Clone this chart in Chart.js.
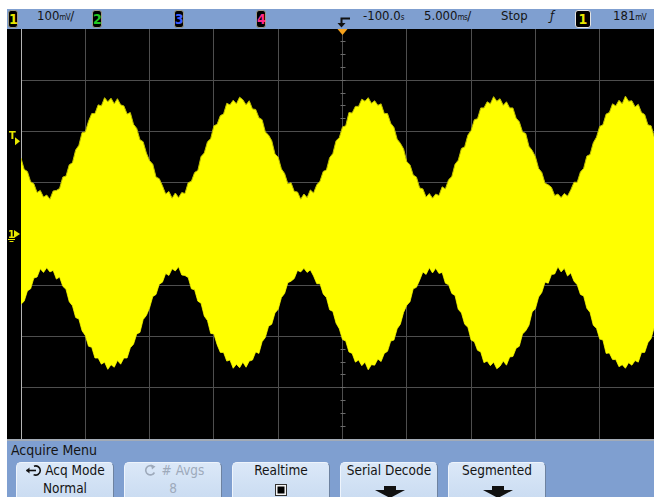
<!DOCTYPE html>
<html>
<head>
<meta charset="utf-8">
<script src="https://cdn.jsdelivr.net/npm/chart.js@4.4.0/dist/chart.umd.min.js"></script>
<style>
  html, body { margin: 0; padding: 0; }
  body {
    width: 654px; height: 497px; overflow: hidden; position: relative; background: #fff;
    font-family: "DejaVu Sans Condensed", "DejaVu Sans", "Liberation Sans Narrow", sans-serif;
    font-stretch: condensed; color: #141414;
  }
  .abs { position: absolute; }
  #topbar { left: 7px; top: 9px; width: 647px; height: 20px; background: #7f9fd0; }
  #menu { left: 7px; top: 439px; width: 647px; height: 58px; background: #7f9fd0; border-top: 2px solid #a3abb6; box-sizing: border-box; }
  #screen { left: 7px; top: 29px; width: 660px; height: 410px; background: #000; }
  .lbl { position: absolute; top: 8px; line-height: 16px; font-size: 13px; white-space: nowrap; }
  .unit { font-size: 8px; letter-spacing: -0.5px; }
  .chip {
    position: absolute; top: 10px; height: 18px; width: 10px; box-sizing: border-box;
    background: #000; border: 1px solid #9a9a8a; border-radius: 3px;
    font-size: 14px; font-weight: bold; line-height: 16px; text-align: center;
  }
  .btn {
    position: absolute; top: 462px; width: 98px; height: 40px; box-sizing: border-box;
    background: linear-gradient(#dbe8f8, #c9dbf1); border: 1px solid #6d82a0; border-left-color: #eef4fc; border-top-color: #eef4fc;
    border-radius: 5px 5px 0 0; text-align: center; font-size: 13.5px;
  }
  .btn .l1 { position: absolute; left: 0; right: 0; top: 0; line-height: 15px; }
  .btn .l2 { position: absolute; left: 0; right: 0; top: 17px; line-height: 16px; }
  .dim { color: #9eaabb; }
</style>
</head>
<body>
<div id="topbar" class="abs"></div>
<div class="chip" style="left:8px;color:#e8e800">1</div>
<div class="lbl" style="left:37px">100<span class="unit">mV</span>/</div>
<div class="chip" style="left:92px;color:#22c822">2</div>
<div class="chip" style="left:174px;color:#3a5cff">3</div>
<div class="chip" style="left:256px;color:#ff2a8a">4</div>
<svg class="abs" style="left:0;top:0" width="654" height="30">
  <path d="M350 18.5 H341.5 V24" stroke="#111" stroke-width="2" fill="none"/>
  <path d="M337.5 23 H345.5 L341.5 27.5 Z" fill="#111"/>
</svg>
<div class="lbl" style="left:363px">-100.0<span class="unit">s</span></div>
<div class="lbl" style="left:424px">5.000<span class="unit">ms</span>/</div>
<div class="lbl" style="left:501px">Stop</div>
<div class="lbl" style="left:550px;font-style:italic">ƒ</div>
<div class="chip" style="left:575px;width:16px;border:1.5px solid #e4e4e4;color:#e8e800">1</div>
<div class="lbl" style="left:613px">181<span class="unit">mV</span></div>

<div id="screen" class="abs"><canvas id="scope"></canvas></div>

<div id="menu" class="abs"></div>
<div class="abs" style="left:11px;top:441px;font-size:14px;line-height:18px">Acquire Menu</div>

<div class="btn" style="left:16px">
  <div class="l1"><svg width="19" height="12" style="vertical-align:-1px;margin-right:1px"><path d="M9 2.2 A4.6 4.6 0 1 1 8.6 10.6" stroke="#111" stroke-width="1.6" fill="none"/><path d="M1.5 6.5 H11" stroke="#111" stroke-width="1.6"/><path d="M1 6.5 L4.5 3.5 V9.5 Z" fill="#111"/></svg>Acq Mode</div>
  <div class="l2">Normal</div>
</div>
<div class="btn dim" style="left:124px">
  <div class="l1"><svg width="16" height="12" style="vertical-align:-1px;margin-right:4px"><path d="M11 2.5 A4.6 4.6 0 1 0 12.4 8.5" stroke="#9eaabb" stroke-width="1.6" fill="none"/><path d="M9 0.5 L13.5 2.6 L10 5.5 Z" fill="#9eaabb"/></svg># Avgs</div>
  <div class="l2">8</div>
</div>
<div class="btn" style="left:232px">
  <div class="l1">Realtime</div>
  <div class="l2"><span style="display:inline-block;width:12px;height:12px;box-sizing:border-box;border:1px solid #333;background:#000;box-shadow:inset 0 0 0 1.5px #f4f4f4;margin-top:4px"></span></div>
</div>
<div class="btn" style="left:340px">
  <div class="l1">Serial Decode</div>
  <svg class="abs" style="left:33px;top:22px" width="32" height="14"><path d="M10 1 H22 V5 H31 L16 13 L1 5 H10 Z" fill="#111"/></svg>
</div>
<div class="btn" style="left:448px">
  <div class="l1">Segmented</div>
  <svg class="abs" style="left:33px;top:22px" width="32" height="14"><path d="M10 1 H22 V5 H31 L16 13 L1 5 H10 Z" fill="#111"/></svg>
</div>

<script>
// Acquisition: channel 1 at 100 mV/div, 5 ms/div, delay -100 ms, trigger level 181 mV
const sampleStartMs = -125;
const sampleStepMs = 0.25;

// outer edges of the yellow trace (mV)
const upperMv = [
  148, 126, 122, 102, 98, 81, 85, 72, 76, 68, 84, 85, 89, 111, 113, 135, 139, 164, 173, 198,
  199, 220, 235, 235, 252, 250, 266, 258, 265, 254, 264, 252, 250, 234, 237, 214, 206, 184, 180, 158,
  143, 136, 111, 108, 94, 78, 83, 70, 80, 71, 81, 79, 100, 103, 120, 124, 151, 158, 180, 186,
  211, 214, 231, 234, 255, 252, 261, 254, 267, 262, 252, 260, 244, 243, 227, 223, 199, 193, 182, 156,
  150, 127, 118, 98, 100, 83, 82, 68, 78, 71, 86, 80, 96, 103, 122, 125, 149, 157, 182, 188,
  209, 211, 237, 236, 249, 249, 263, 259, 266, 255, 260, 251, 254, 235, 235, 216, 208, 185, 177, 166,
  141, 135, 115, 111, 90, 88, 72, 79, 70, 78, 75, 92, 88, 106, 112, 136, 144, 167, 170, 193,
  202, 223, 225, 246, 246, 258, 254, 268, 259, 264, 251, 258, 246, 246, 226, 219, 199, 196, 171, 163,
  151, 128, 120, 99, 96, 91, 75, 78, 71, 79, 74, 86, 101, 101, 121, 128, 152, 155, 178, 189,
  210, 213, 234, 237, 254, 250, 261, 254, 269, 259, 260, 248, 253, 237, 233, 213, 211, 189, 180, 157,
  149
];
const lowerMv = [
  -137, -131, -111, -107, -86, -84, -68, -75, -66, -74, -71, -88, -84, -102, -108, -132, -140, -163, -166, -189,
  -198, -219, -221, -242, -242, -254, -250, -264, -255, -260, -247, -254, -242, -242, -222, -215, -195, -192, -167, -159,
  -144, -122, -118, -98, -94, -77, -81, -68, -72, -64, -80, -81, -85, -107, -109, -131, -135, -160, -169, -194,
  -195, -216, -231, -231, -248, -246, -262, -254, -261, -250, -260, -248, -246, -230, -233, -210, -202, -180, -176, -154,
  -147, -124, -116, -95, -92, -87, -71, -74, -67, -75, -70, -82, -97, -97, -117, -124, -148, -151, -174, -185,
  -206, -209, -230, -233, -250, -246, -257, -250, -265, -255, -256, -244, -249, -233, -229, -209, -207, -185, -176, -153,
  -139, -132, -107, -104, -90, -74, -79, -66, -76, -67, -77, -75, -96, -99, -116, -120, -147, -154, -176, -182,
  -207, -210, -227, -230, -251, -248, -257, -250, -263, -258, -248, -256, -240, -239, -223, -219, -195, -189, -178, -152,
  -146, -123, -114, -94, -96, -79, -78, -64, -74, -67, -82, -76, -92, -99, -118, -121, -145, -153, -178, -184,
  -205, -207, -233, -232, -245, -245, -259, -255, -262, -251, -256, -247, -250, -231, -231, -212, -204, -181, -173, -162,
  -143
];

// graticule: 10 x 8 divisions
const xDivMs = [-125, -120, -115, -110, -105, -100, -95, -90, -85, -80, -75];
const yDivMv = [-400, -300, -200, -100, 0, 100, 200, 300, 400];
const minorStepMv = 25;
const triggerTimeMs = -100;
const triggerLevelMv = 181;
const groundMv = 0;

const timeMs = upperMv.map((_, i) => sampleStartMs + i * sampleStepMs);
const toPts = (arr) => arr.map((v, i) => ({ x: timeMs[i], y: v }));

const graticule = {
  id: 'graticule',
  beforeDraw(chart) {
    const { ctx, chartArea: a, scales: { x, y } } = chart;
    ctx.save();
    ctx.fillStyle = '#000';
    ctx.fillRect(0, 0, chart.width, chart.height);

    ctx.strokeStyle = '#4e4e4e';
    ctx.lineWidth = 1;
    ctx.beginPath();
    xDivMs.slice(1).forEach((t) => {
      const px = Math.floor(x.getPixelForValue(t)) + 0.5;
      ctx.moveTo(px, a.top); ctx.lineTo(px, a.bottom);
    });
    yDivMv.slice(1, -1).forEach((v) => {
      const py = Math.floor(y.getPixelForValue(v)) + 0.5;
      ctx.moveTo(a.left, py); ctx.lineTo(a.right, py);
    });
    ctx.stroke();

    // minor ticks along the center vertical
    const cx = Math.floor(x.getPixelForValue(triggerTimeMs)) + 0.5;
    ctx.strokeStyle = '#6a6a6a';
    ctx.beginPath();
    for (let v = yDivMv[0]; v <= yDivMv[yDivMv.length - 1]; v += minorStepMv) {
      const py = Math.floor(y.getPixelForValue(v)) + 0.5;
      ctx.moveTo(cx - 2, py); ctx.lineTo(cx + 3, py);
    }
    ctx.stroke();

    // left edge of the graticule
    ctx.strokeStyle = '#b4b4b4';
    ctx.beginPath();
    const lx = Math.floor(x.getPixelForValue(xDivMs[0])) + 0.5;
    ctx.moveTo(lx, a.top); ctx.lineTo(lx, a.bottom);
    ctx.stroke();
    ctx.restore();
  },
  afterDraw(chart) {
    const { ctx, chartArea: a, scales: { x, y } } = chart;
    ctx.save();
    // trigger time marker
    const tx = x.getPixelForValue(triggerTimeMs);
    ctx.fillStyle = '#f7a21c';
    ctx.beginPath();
    ctx.moveTo(tx - 5, a.top); ctx.lineTo(tx + 5, a.top); ctx.lineTo(tx, a.top + 6);
    ctx.closePath(); ctx.fill();

    ctx.fillStyle = '#e8e800';
    ctx.font = 'bold 11px "DejaVu Sans Condensed", "DejaVu Sans", sans-serif';
    ctx.textBaseline = 'alphabetic';
    // trigger level marker
    const ty = y.getPixelForValue(triggerLevelMv);
    ctx.fillText('T', 2, ty - 2);
    ctx.beginPath();
    ctx.moveTo(a.left - 6, ty - 4); ctx.lineTo(a.left - 1, ty); ctx.lineTo(a.left - 6, ty + 4);
    ctx.closePath(); ctx.fill();
    // channel 1 ground marker
    const gy = y.getPixelForValue(groundMv);
    ctx.fillText('1', 1, gy + 4);
    ctx.beginPath();
    ctx.moveTo(a.left - 7, gy - 4); ctx.lineTo(a.left - 1, gy); ctx.lineTo(a.left - 7, gy + 4);
    ctx.closePath(); ctx.fill();
    ctx.fillRect(1, gy + 5, 7, 1);
    ctx.fillRect(2.5, gy + 7, 4, 1);
    ctx.restore();
  }
};

const scopeEl = document.getElementById('scope');
new Chart(scopeEl, {
  type: 'line',
  data: {
    datasets: [{
      data: toPts(upperMv),
      borderColor: '#bebe00',
      borderWidth: 1,
      backgroundColor: '#ffff00',
      fill: '+1',
      pointRadius: 0,
      tension: 0
    }, {
      data: toPts(lowerMv),
      borderColor: '#bebe00',
      borderWidth: 1,
      fill: false,
      pointRadius: 0,
      tension: 0
    }]
  },
  options: {
    responsive: true,
    maintainAspectRatio: false,
    animation: false,
    events: [],
    layout: { padding: { left: 14, right: 3, top: 0, bottom: 0 } },
    plugins: { legend: { display: false }, tooltip: { enabled: false } },
    scales: {
      x: { type: 'linear', display: false, min: xDivMs[0], max: xDivMs[xDivMs.length - 1] },
      y: { type: 'linear', display: false, min: yDivMv[0], max: yDivMv[yDivMv.length - 1] }
    }
  },
  plugins: [graticule]
});
</script>
</body>
</html>
